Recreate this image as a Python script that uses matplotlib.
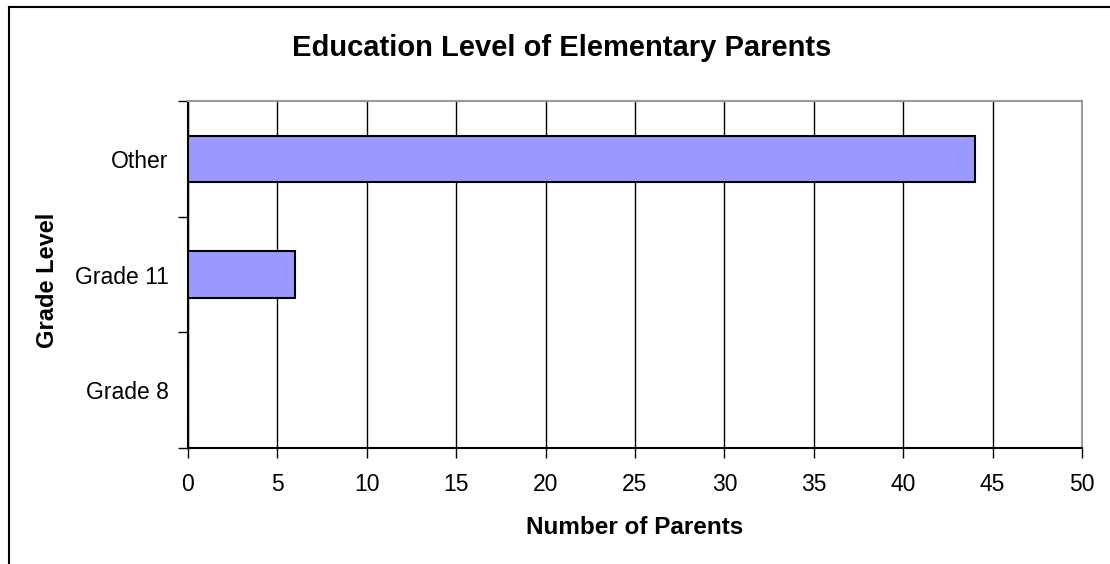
import matplotlib.pyplot as plt
from matplotlib.lines import Line2D

categories = ['Grade 8', 'Grade 11', 'Other']
parents = [0, 6, 44]
x_ticks = [0, 5, 10, 15, 20, 25, 30, 35, 40, 45, 50]

plt.rcParams['font.family'] = ['Liberation Sans', 'DejaVu Sans']

fig = plt.figure(figsize=(11.1, 5.64), dpi=100)
ax = fig.add_axes([188 / 1110, 1 - 448 / 564, (1082 - 188) / 1110, (448 - 101) / 564])

ax.barh(range(len(categories)), parents, height=0.4, color='#9999ff',
        edgecolor='black', linewidth=1.5, zorder=3)

ax.set_xlim(0, 50)
ax.set_ylim(-0.5, len(categories) - 0.5)
ax.set_xticks(x_ticks)
ax.set_xticklabels([str(t) for t in x_ticks], fontsize=16.5)
ax.grid(axis='x', color='black', linewidth=1, zorder=0)

# category labels centred, ticks between categories
ax.set_yticks(range(len(categories)))
ax.set_yticklabels(categories, fontsize=16.5)
ax.tick_params(axis='y', length=0, pad=14)
ax.set_yticks([i - 0.5 for i in range(len(categories) + 1)], minor=True)
ax.tick_params(axis='y', which='minor', length=7, width=1, direction='out')
ax.tick_params(axis='x', length=7, width=1, direction='out', pad=11)

ax.spines['left'].set_color('black')
ax.spines['bottom'].set_color('black')
ax.spines['top'].set_color('#999999')
ax.spines['right'].set_color('#999999')
for s in ax.spines.values():
    s.set_linewidth(1.5)

fig.text(635 / 1110, 1 - 527 / 564, 'Number of Parents', fontsize=17.5,
         fontweight='bold', ha='center', va='center')
fig.text(47 / 1110, 1 - 280 / 564, 'Grade Level', fontsize=17, fontweight='bold',
         ha='center', va='center', rotation=90)
fig.text(562 / 1110, 1 - 48 / 564, 'Education Level of Elementary Parents', fontsize=21,
         fontweight='bold', ha='center', va='center')

# outer chart border (top and left visible)
y_top = 1 - 6.5 / 564
x_left = 8.5 / 1110
fig.add_artist(Line2D([x_left, 1.0], [y_top, y_top], color='black', linewidth=1.5))
fig.add_artist(Line2D([x_left, x_left], [0.0, y_top], color='black', linewidth=1.5))

fig.savefig('out.png', dpi=100)
